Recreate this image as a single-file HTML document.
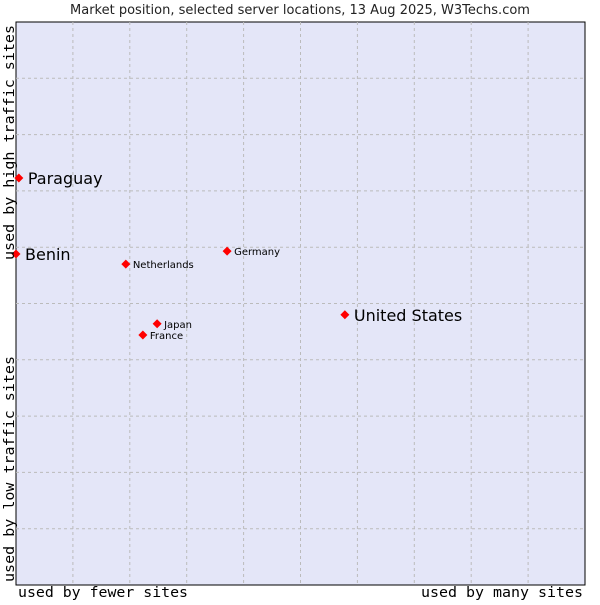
<!DOCTYPE html>
<html><head><meta charset="utf-8"><style>
body{margin:0;background:#fff;width:600px;height:600px;overflow:hidden}
svg text{font-family:"DejaVu Sans","Liberation Sans",sans-serif}
.mono{font-family:"DejaVu Sans Mono","Liberation Mono",monospace}
</style></head><body>
<svg id="chart" width="600" height="600" xmlns="http://www.w3.org/2000/svg">
<text x="300" y="14" text-anchor="middle" font-size="13" fill="#222">Market position, selected server locations, 13 Aug 2025, W3Techs.com</text>
<rect x="16" y="22" width="569" height="563" fill="#e4e6f8" stroke="#000" stroke-width="1"/>
<g id="grid"></g>
<g id="points"></g>
<text class="mono" x="18" y="597" font-size="14" textLength="170" lengthAdjust="spacingAndGlyphs">used by fewer sites</text>
<text class="mono" x="421" y="597" font-size="14" textLength="162" lengthAdjust="spacingAndGlyphs">used by many sites</text>
<text class="mono" transform="translate(14,582) rotate(-90)" font-size="14" textLength="226" lengthAdjust="spacingAndGlyphs">used by low traffic sites</text>
<text class="mono" transform="translate(14,260) rotate(-90)" font-size="14" textLength="235" lengthAdjust="spacingAndGlyphs">used by high traffic sites</text>
</svg>
<script>
const names=["Paraguay","Benin","Netherlands","Germany","Japan","France","United States"];
const xVals=[0.5,0,19.3,37.1,24.8,22.3,57.8];
const yVals=[72.3,58.8,57.0,59.3,46.4,44.4,48.0];
const big=[true,true,false,false,false,false,true];
const L=16,T=22,W=569,H=563;
const sx=v=>L+v/100*W, sy=v=>T+H-v/100*H;
const ns="http://www.w3.org/2000/svg";
const g=document.getElementById('grid'), p=document.getElementById('points');
for(let i=1;i<10;i++){
 const v=document.createElementNS(ns,'line');
 
 
 v.setAttribute('x1',sx(i*10));v.setAttribute('x2',sx(i*10));v.setAttribute('y1',T);v.setAttribute('y2',T+H);
 v.setAttribute('stroke','#bbb');v.setAttribute('stroke-dasharray','3,3');g.appendChild(v);
 const h=document.createElementNS(ns,'line');
 
 
 h.setAttribute('y1',sy(i*10));h.setAttribute('y2',sy(i*10));h.setAttribute('x1',L);h.setAttribute('x2',L+W);
 h.setAttribute('stroke','#bbb');h.setAttribute('stroke-dasharray','3,3');g.appendChild(h);
}
names.forEach((n,i)=>{
 const x=sx(xVals[i]),y=sy(yVals[i]);
 const d=document.createElementNS(ns,'polygon');
 
 
 d.setAttribute('points',`${x},${y-4.5} ${x+4.5},${y} ${x},${y+4.5} ${x-4.5},${y}`);
 d.setAttribute('fill','#f00');p.appendChild(d);
 const t=document.createElementNS(ns,'text');
 
 
 t.setAttribute('x',x+(big[i]?9:7));t.setAttribute('y',y+(big[i]?6:4));
 t.setAttribute('font-size',big[i]?16:10);t.textContent=n;p.appendChild(t);
});
</script>
</body></html>
